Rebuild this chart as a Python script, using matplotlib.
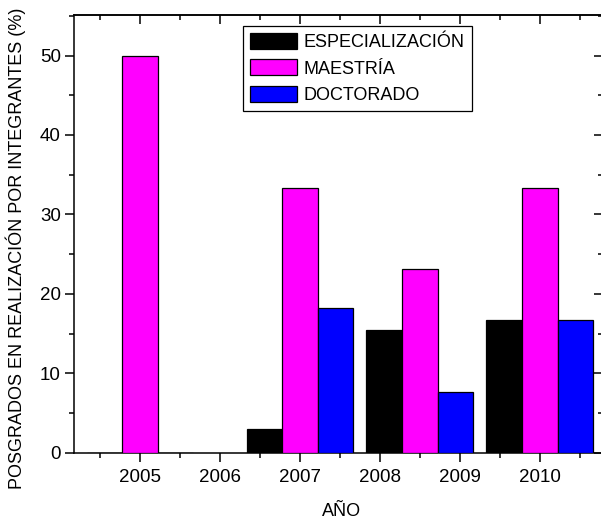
import matplotlib
matplotlib.use("Agg")
from matplotlib import pyplot as plt
from matplotlib.ticker import MultipleLocator

# group centres as drawn in the original (Origin-style offsets)
group_x = [2005, 2007, 2008.5, 2010]
especializacion = [0, 3.0, 15.4, 16.7]
maestria = [50, 33.3, 23.1, 33.3]
doctorado = [0, 18.2, 7.7, 16.7]
series_labels = ["ESPECIALIZACIÓN", "MAESTRÍA", "DOCTORADO"]
series_colors = ["#000000", "#ff00ff", "#0000ff"]
year_ticks = [2005, 2006, 2007, 2008, 2009, 2010]

plt.rcParams['font.family'] = ['Liberation Sans', 'DejaVu Sans']
tick_fs = 13.5
leg_fs = 13
lab_fs = 13

fig = plt.figure(figsize=(6.01, 5.20), dpi=100)
W, H = 601.0, 520.0
ax = fig.add_axes([74 / W, 1 - 452.7 / H, (603 - 74) / W, (452.7 - 15) / H])

width = 0.445
for k, (vals, lab, col) in enumerate(zip([especializacion, maestria, doctorado],
                                         series_labels, series_colors)):
    xs = [g + (k - 1) * width for g in group_x]
    ax.bar(xs, vals, width=width, color=col, edgecolor="black",
           linewidth=0.9, label=lab, zorder=3)

ax.set_xlim(2004.175, 2010.79)
ax.set_ylim(0, 55.1)
ax.set_xticks(year_ticks)
ax.xaxis.set_minor_locator(MultipleLocator(0.5))
ax.yaxis.set_major_locator(MultipleLocator(10))
ax.yaxis.set_minor_locator(MultipleLocator(5))

for s in ax.spines.values():
    s.set_linewidth(1.1)

ax.tick_params(which="both", direction="out", width=1.1, labelsize=tick_fs)
ax.tick_params(which="major", length=6.5)
ax.tick_params(which="minor", length=3.6)
ax.tick_params(axis="x", which="major", pad=5)
ax.tick_params(axis="y", which="major", pad=3)

# mirrored ticks on top/right pointing inward
top = ax.secondary_xaxis("top")
top.set_xticks(year_ticks)
top.xaxis.set_minor_locator(MultipleLocator(0.5))
top.tick_params(which="both", direction="in", width=1.1, labeltop=False)
top.tick_params(which="major", length=6.5)
top.tick_params(which="minor", length=3.6)
top.spines["top"].set_linewidth(1.1)
right = ax.secondary_yaxis("right")
right.yaxis.set_major_locator(MultipleLocator(10))
right.yaxis.set_minor_locator(MultipleLocator(5))
right.tick_params(which="both", direction="in", width=1.1, labelright=False)
right.tick_params(which="major", length=6.5)
right.tick_params(which="minor", length=3.6)

ax.set_xlabel("AÑO", fontsize=lab_fs)
ax.xaxis.set_label_coords((342 - 74) / 529.0, -50 / 437.7)
ax.set_ylabel("POSGRADOS EN REALIZACIÓN POR INTEGRANTES (%)", fontsize=lab_fs)
ax.yaxis.set_label_coords(-48 / 529.0, 0.468)

leg = ax.legend(loc="upper left", bbox_to_anchor=(242.7 / W, 1 - 26 / H),
                bbox_transform=fig.transFigure, fontsize=leg_fs, frameon=True,
                fancybox=False, borderaxespad=0, handlelength=2.6,
                handleheight=1.0, labelspacing=0.45, borderpad=0.38,
                handletextpad=0.4)
leg.get_frame().set_edgecolor("black")
leg.get_frame().set_linewidth(0.9)
leg.get_frame().set_alpha(1)

fig.savefig("out.png", dpi=100)
